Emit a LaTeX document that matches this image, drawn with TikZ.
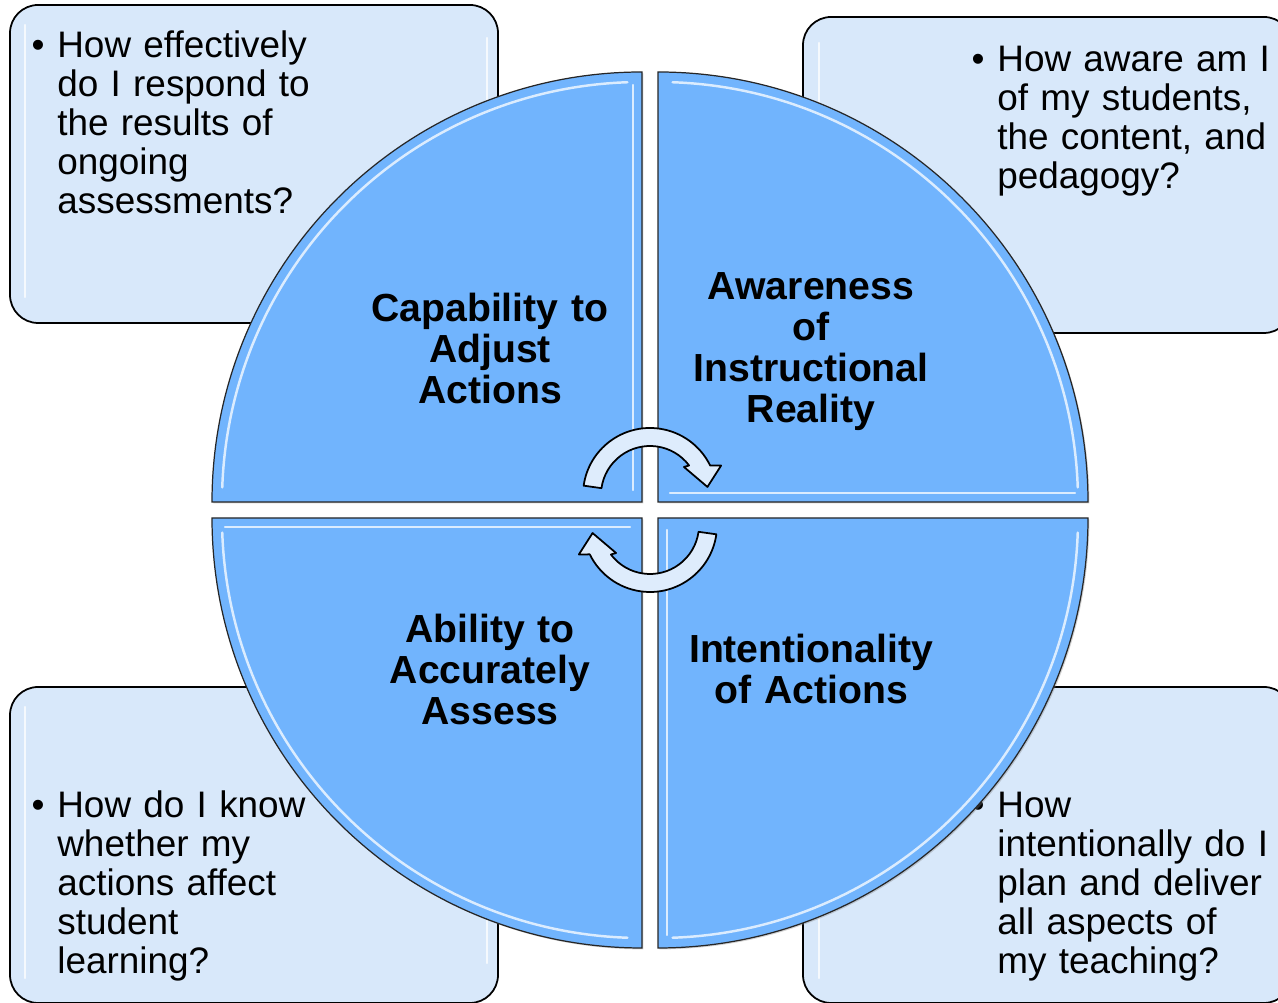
\documentclass[tikz,border=0pt]{standalone}
\usepackage{fontspec}
\setmainfont{Liberation Sans}
\usepackage{tkz-euclide}
\usetikzlibrary{shadows}

\definecolor{quadblue}{RGB}{113,180,253}
\definecolor{boxblue}{RGB}{216,232,250}
\definecolor{arrowblue}{RGB}{222,236,252}

\tikzset{
  qbox/.style={draw=black, line width=1pt, fill=boxblue, rounded corners=16pt},
  quadrant/.style={draw=black!85, line width=.7pt, fill=quadblue,
    drop shadow={shadow xshift=.8pt, shadow yshift=-.8pt, opacity=.35}},
  glint/.style={white, opacity=.75, line width=1.4pt, line cap=round},
  cycarrow/.style={draw=black, line width=1pt, fill=arrowblue, line join=round},
  question/.style={anchor=base west, inner sep=0pt, text width=6cm, align=left,
    font={\fontsize{21}{22.1}\selectfont}},
  dot/.style={anchor=base, inner sep=0pt, font={\fontsize{21}{22.1}\selectfont}},
  title/.style={anchor=base, inner sep=0pt, text width=6cm, align=center,
    font={\fontsize{22.3}{23.3}\selectfont\bfseries}},
}

\begin{document}
\begin{tikzpicture}[x=.02cm, y=.02cm]
  \useasboundingbox (0,0) rectangle (1278,1003);
  \clip (0,0) rectangle (1278,1003);
  \tkzDefPoints{642/501/A, 658/501/B, 642/485/C, 658/485/D, 650/508/E, 650/478/F}

  % question boxes
  \draw[qbox] (10,680) rectangle (498,998);
  \draw[qbox] (803,670) rectangle (1292,986);
  \draw[qbox] (10,0) rectangle (498,316);
  \draw[qbox] (803,0) rectangle (1292,316);
  \draw[glint] (25,706) -- (25,978) (487,706) -- (487,965);
  \draw[glint] (819,695) -- (819,960);
  \draw[glint] (25,25) -- (25,296) (487,40) -- (487,290);
  \draw[glint] (819,25) -- (819,296);

  \node[dot] (bTL) at (38,945) {\textbullet};
  \node[question] (qTL) at (57,945) {How effectively\\do I respond to\\the results of\\ongoing\\assessments?};
  \node[dot] (bTR) at (978,931) {\textbullet};
  \node[question] (qTR) at (997,931) {How aware am I\\of my students,\\the content, and\\pedagogy?};
  \node[dot] (bBL) at (38,185) {\textbullet};
  \node[question] (qBL) at (57,185) {How do I know\\whether my\\actions affect\\student\\learning?};
  \node[dot] (bBR) at (978,185) {\textbullet};
  \node[question] (qBR) at (997,185) {How\\intentionally do I\\plan and deliver\\all aspects of\\my teaching?};

  % the four quarters
  \path[quadrant] (A) -- ++(-430,0) arc[start angle=180, end angle=90, radius=430] -- cycle;
  \path[quadrant] (B) -- ++(0,430) arc[start angle=90, end angle=0, radius=430] -- cycle;
  \path[quadrant] (C) -- ++(0,-430) arc[start angle=270, end angle=180, radius=430] -- cycle;
  \path[quadrant] (D) -- ++(430,0) arc[start angle=0, end angle=-90, radius=430] -- cycle;

  \draw[glint] (A) ++(178:420) arc[start angle=178, end angle=92, radius=420];
  \draw[glint] (A) ++(-9,12) -- ++(0,405);
  \draw[glint] (B) ++(88:420) arc[start angle=88, end angle=2, radius=420];
  \draw[glint] (B) ++(12,9) -- ++(405,0);
  \draw[glint] (C) ++(268:420) arc[start angle=268, end angle=182, radius=420];
  \draw[glint] (C) ++(-12,-9) -- ++(-405,0);
  \draw[glint] (D) ++(-2:420) arc[start angle=-2, end angle=-88, radius=420];
  \draw[glint] (D) ++(9,-12) -- ++(0,-405);

  % cycle arrows
  \begin{scope}[shift={(E)}]
    \filldraw[cycarrow] (172:67) arc[start angle=172, end angle=26, radius=67]
      -- (22.5:77) -- (8:58) -- (39.6:44) -- (37:49)
      arc[start angle=37, end angle=172, radius=49] -- cycle;
  \end{scope}
  \begin{scope}[shift={(F)}]
    \filldraw[cycarrow] (-8:67) arc[start angle=-8, end angle=-154, radius=67]
      -- (202.5:77) -- (188:58) -- (219.6:44) -- (217:49)
      arc[start angle=217, end angle=352, radius=49] -- cycle;
  \end{scope}

  \node[title] (tTL) at (490,681) {Capability to\\Adjust\\Actions};
  \node[title] (tTR) at (811,703) {Awareness\\of\\Instructional\\Reality};
  \node[title] (tBL) at (490,360) {Ability to\\Accurately\\Assess};
  \node[title] (tBR) at (811,340) {Intentionality\\of Actions};
\end{tikzpicture}
\end{document}
